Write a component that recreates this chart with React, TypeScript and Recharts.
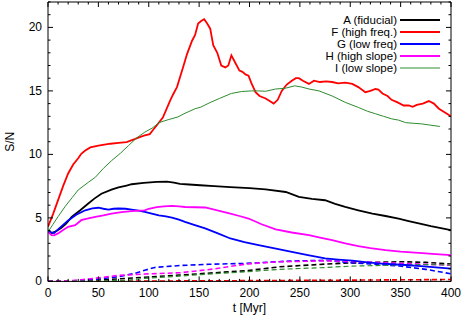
import { LineChart, Line, XAxis, YAxis, ReferenceLine, Legend } from 'recharts';

const W = 463;
const H = 319;
const MARGIN = { top: 2, right: 12, left: 0, bottom: 0 };
const PLOT_TOP = MARGIN.top;
const PLOT_RIGHT = W - MARGIN.right;
const FONT = '"Liberation Sans", Arial, Helvetica, sans-serif';

// tick labels
const xMajor = [0, 50, 100, 150, 200, 250, 300, 350, 400];
const yMajor = [0, 5, 10, 15, 20];
const xTicks = Array.from({ length: 41 }, (_, i) => i * 10);
const yTicks = Array.from({ length: 23 }, (_, i) => i);

// [t (Myr), S/N]
const aFid: [number, number][] = [
  [0, 4.0], [3.5, 3.8], [8, 3.95], [13, 4.2], [18, 4.55], [23.5, 5.08], [32, 5.6], [40, 6.13],
  [46, 6.52], [53, 6.9], [63, 7.23], [70, 7.4], [78, 7.55], [83, 7.65], [95, 7.75], [108, 7.83],
  [118, 7.85], [125, 7.78], [131, 7.68], [140, 7.63], [151, 7.57], [165, 7.5], [181, 7.43],
  [200, 7.35], [216, 7.25], [236, 7.04], [249, 6.65], [262, 6.5], [275, 6.39], [285, 6.1],
  [295, 5.86], [308, 5.6], [322, 5.34], [335, 5.15], [348, 4.95], [358, 4.75], [368, 4.56],
  [380, 4.35], [390, 4.2], [400, 4.03],
];
const fHigh: [number, number][] = [
  [0, 4.3], [5, 5.3], [10, 6.4], [15, 7.5], [20, 8.5], [25, 9.2], [30, 9.7], [33, 10.05],
  [37, 10.3], [42, 10.55], [50, 10.7], [62, 10.84], [70, 10.9], [78, 10.97], [86, 11.2],
  [91, 11.36], [96, 11.5], [101, 11.6], [104, 11.9], [108, 12.3], [114, 12.9], [121, 14.2],
  [124, 14.7], [128, 15.3], [134, 16.85], [138, 17.9], [143, 18.95], [146, 19.4], [149, 20.3],
  [152, 20.5], [155, 20.65], [158, 20.3], [161, 19.9], [164, 18.6], [168, 18.0], [172, 17.0],
  [176, 16.85], [179, 17.0], [182, 17.8], [186, 17.2], [190, 16.6], [193, 16.5], [196, 16.3],
  [199, 16.2], [202, 15.6], [206, 14.9], [210, 14.6], [216, 14.4], [220, 14.2], [224, 14.0],
  [228, 14.3], [232, 15.0], [237, 15.5], [242, 15.8], [246, 16.0], [249, 16.0], [253, 15.8],
  [259, 15.55], [264, 15.8], [270, 15.7], [276, 15.75], [282, 15.7], [288, 15.6], [295, 15.65],
  [302, 15.55], [308, 15.3], [315, 14.9], [320, 15.0], [325, 15.15], [328, 15.1], [332, 14.8],
  [337, 14.6], [341, 14.3], [347, 14.1], [353, 13.85], [358, 13.85], [362, 13.75], [366, 13.9],
  [372, 14.0], [378, 14.2], [383, 14.0], [388, 13.6], [394, 13.3], [400, 13.0],
];
const gLow: [number, number][] = [
  [0, 4.0], [3, 3.85], [6, 3.8], [10, 4.1], [15, 4.45], [20, 4.8], [28, 5.25], [37, 5.6],
  [44, 5.75], [50, 5.8], [55, 5.72], [60, 5.66], [65, 5.72], [70, 5.74], [77, 5.72], [83, 5.66],
  [90, 5.58], [96, 5.47], [103, 5.33], [110, 5.2], [117, 5.12], [123, 5.03], [130, 4.87],
  [136, 4.69], [145, 4.45], [156, 4.17], [168, 3.8], [181, 3.38], [195, 3.1], [209, 2.86],
  [225, 2.6], [242, 2.33], [258, 2.07], [275, 1.81], [288, 1.72], [302, 1.63], [315, 1.52],
  [328, 1.42], [342, 1.35], [355, 1.29], [370, 1.2], [385, 1.1], [400, 1.0],
];
const hHigh: [number, number][] = [
  [0, 3.9], [3.5, 3.64], [6, 3.62], [10, 3.78], [15, 4.05], [20, 4.3], [27, 4.43], [33, 4.82],
  [40, 4.97], [47, 5.08], [55, 5.2], [63, 5.34], [73, 5.45], [83, 5.53], [96, 5.6], [100, 5.72],
  [108, 5.85], [115, 5.9], [123, 5.94], [130, 5.9], [136, 5.86], [146, 5.84], [156, 5.82],
  [168, 5.6], [181, 5.34], [190, 5.15], [199, 4.95], [212, 4.5], [226, 4.09], [242, 3.85],
  [259, 3.64], [270, 3.45], [282, 3.25], [295, 3.0], [308, 2.78], [320, 2.62], [335, 2.46],
  [350, 2.35], [368, 2.25], [385, 2.15], [400, 2.07],
];
const iLow: [number, number][] = [
  [0, 3.9], [5, 4.5], [10, 5.1], [17, 5.9], [24, 6.6], [30, 7.2], [40, 7.8], [47, 8.2],
  [55, 8.9], [63, 9.5], [72, 10.1], [80, 10.7], [88, 11.3], [96, 11.75], [104, 12.1],
  [110, 12.5], [120, 12.75], [129, 12.95], [135, 13.2], [146, 13.6], [151, 13.7], [160, 14.05],
  [170, 14.4], [182, 14.8], [192, 14.95], [202, 15.0], [209, 15.0], [216, 14.97], [226, 15.15],
  [235, 15.2], [245, 15.4], [252, 15.3], [259, 15.15], [269, 15.0], [282, 14.6], [295, 14.1],
  [308, 13.7], [317, 13.4], [325, 13.2], [333, 13.0], [341, 12.8], [348, 12.7], [355, 12.5],
  [363, 12.45], [371, 12.4], [380, 12.3], [389, 12.2],
];

// dashed companions
const aFidD: [number, number][] = [
  [0, 0], [40, 0.04], [70, 0.2], [96, 0.33], [131, 0.5], [169, 0.7], [197, 0.84], [230, 1.15],
  [277, 1.37], [300, 1.45], [350, 1.55], [375, 1.5], [400, 1.37],
];
const fHighD: [number, number][] = [
  [0, 0], [100, 0.03], [200, 0.06], [300, 0.1], [400, 0.15],
];
const gLowD: [number, number][] = [
  [0, 0], [25, 0.05], [47, 0.16], [70, 0.37], [86, 0.63], [96, 0.88], [106, 1.1], [131, 1.25],
  [160, 1.35], [197, 1.42], [240, 1.6], [277, 1.66], [300, 1.47], [325, 1.35], [349, 1.21],
  [375, 0.95], [400, 0.6],
];
const hHighD: [number, number][] = [
  [0, 0], [20, 0.05], [30, 0.1], [50, 0.28], [70, 0.47], [96, 0.58], [131, 0.68], [164, 0.97],
  [197, 1.37], [230, 1.55], [277, 1.62], [300, 1.57], [350, 1.42], [400, 1.27],
];
const iLowD: [number, number][] = [
  [0, 0], [50, 0.03], [80, 0.1], [96, 0.24], [131, 0.42], [169, 0.63], [197, 0.76], [230, 0.95],
  [277, 1.1], [300, 1.2], [350, 1.29], [375, 1.32], [400, 1.3],
];

const toRows = (pts: [number, number][]) => pts.map(([t, v]) => ({ t, v }));

const series = [
  { name: 'A (fiducial)', color: '#000000', width: 1.8, solid: aFid, dashed: aFidD },
  { name: 'F (high freq.)', color: '#ff0000', width: 1.8, solid: fHigh, dashed: fHighD },
  { name: 'G (low freq)', color: '#0000ff', width: 1.8, solid: gLow, dashed: gLowD },
  { name: 'H (high slope)', color: '#ff00ff', width: 1.8, solid: hHigh, dashed: hHighD },
  { name: 'I (low slope)', color: '#2e8b2e', width: 1, solid: iLow, dashed: iLowD },
];

const XTick = (props: any) => {
  const { x, y, payload } = props;
  const major = xMajor.includes(payload.value);
  const len = major ? 5 : 2.5;
  return (
    <g>
      <line x1={x} x2={x} y1={y} y2={y - len} stroke="#000" />
      <line x1={x} x2={x} y1={PLOT_TOP} y2={PLOT_TOP + len} stroke="#000" />
      {major && (
        <text x={x} y={y + 16} textAnchor="middle" fontSize={12} fontFamily={FONT} fill="#000">
          {payload.value}
        </text>
      )}
    </g>
  );
};

const YTick = (props: any) => {
  const { x, y, payload } = props;
  const major = yMajor.includes(payload.value);
  const len = major ? 5 : 2.5;
  return (
    <g>
      <line x1={x} x2={x + len} y1={y} y2={y} stroke="#000" />
      <line x1={PLOT_RIGHT} x2={PLOT_RIGHT - len} y1={y} y2={y} stroke="#000" />
      {major && (
        <text x={x - 6} y={y + 4} textAnchor="end" fontSize={12} fontFamily={FONT} fill="#000">
          {payload.value}
        </text>
      )}
    </g>
  );
};

const LEGEND_W = 150;
const LEGEND_RIGHT = 440;

const LegendBox = () => (
  <div style={{ fontFamily: FONT, fontSize: 11.5, width: LEGEND_W }}>
    {series.map((s) => (
      <div
        key={s.name}
        style={{ display: 'flex', justifyContent: 'flex-end', alignItems: 'center', height: 12.1, overflow: 'visible' }}
      >
        <span style={{ lineHeight: '11px', whiteSpace: 'nowrap' }}>{s.name}</span>
        <svg width={40} height={6} style={{ marginLeft: 3, display: 'block' }}>
          <line x1={0} x2={40} y1={3} y2={3} stroke={s.color} strokeWidth={s.width} />
        </svg>
      </div>
    ))}
  </div>
);

export default function App() {
  return (
    <div style={{ position: 'absolute', left: 0, top: 0, background: '#fff' }}>
      <LineChart width={W} height={H} margin={MARGIN}>
        <XAxis
          type="number"
          dataKey="t"
          domain={[0, 400]}
          ticks={xTicks}
          interval={0}
          tick={XTick}
          tickLine={false}
          tickSize={0}
          tickMargin={0}
          height={37.6}
          axisLine={{ stroke: '#000' }}
          allowDataOverflow
          label={({ viewBox }: any) => (
            <text
              x={viewBox.x + viewBox.width / 2}
              y={viewBox.y + 31}
              textAnchor="middle"
              fontSize={12}
              fontFamily={FONT}
              fill="#000"
            >
              t [Myr]
            </text>
          )}
        />
        <YAxis
          type="number"
          domain={[0, 22]}
          ticks={yTicks}
          interval={0}
          tick={YTick}
          tickLine={false}
          tickSize={0}
          tickMargin={0}
          width={48}
          axisLine={{ stroke: '#000' }}
          allowDataOverflow
          label={({ viewBox }: any) => {
            const cx = 14;
            const cy = viewBox.y + viewBox.height / 2;
            return (
              <text
                x={cx}
                y={cy}
                transform={`rotate(-90 ${cx} ${cy})`}
                textAnchor="middle"
                fontSize={12}
                fontFamily={FONT}
                fill="#000"
              >
                S/N
              </text>
            );
          }}
        />
        <ReferenceLine y={22} stroke="#000" ifOverflow="extendDomain" />
        <ReferenceLine x={400} stroke="#000" ifOverflow="extendDomain" />
        <Legend
          layout="vertical"
          align="center"
          verticalAlign="middle"
          content={LegendBox}
          wrapperStyle={{ top: 14, left: LEGEND_RIGHT - LEGEND_W, width: LEGEND_W, right: 'auto' }}
        />
        {series.map((s) => (
          <Line
            key={s.name + '-d'}
            data={toRows(s.dashed)}
            dataKey="v"
            type="linear"
            stroke={s.color}
            strokeWidth={s.width === 1 ? 1.2 : 1.6}
            strokeDasharray="5 3"
            dot={false}
            legendType="none"
            isAnimationActive={false}
          />
        ))}
        {series.map((s) => (
          <Line
            key={s.name}
            data={toRows(s.solid)}
            dataKey="v"
            name={s.name}
            type="linear"
            stroke={s.color}
            strokeWidth={s.width}
            dot={false}
            isAnimationActive={false}
          />
        ))}
      </LineChart>
    </div>
  );
}
